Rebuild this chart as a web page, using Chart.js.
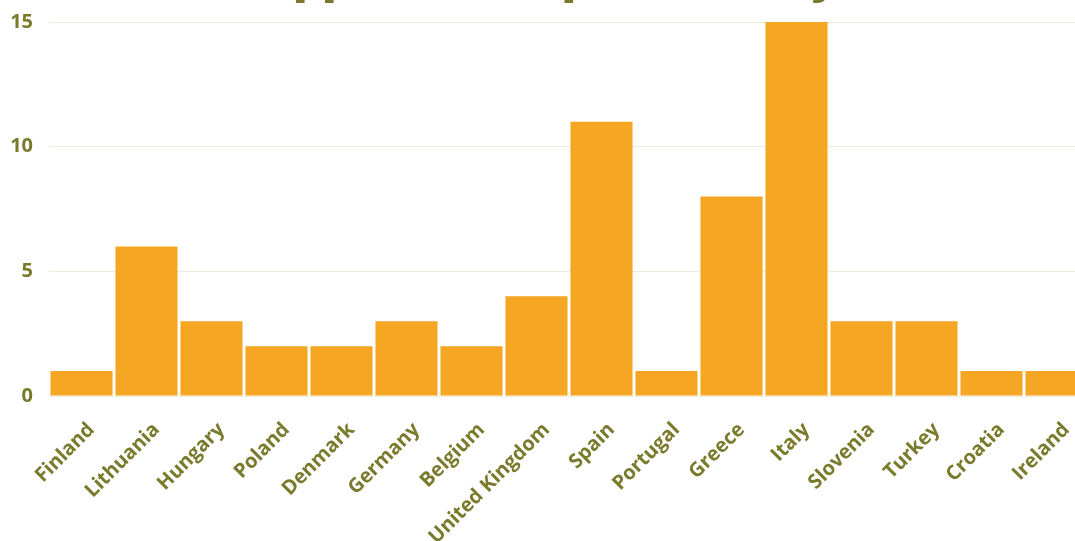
<!DOCTYPE html>
<html>
<head>
<meta charset="utf-8">
<script src="https://cdn.jsdelivr.net/npm/chart.js@4"></script>
<style>
  html, body { margin: 0; padding: 0; background: #ffffff; overflow: hidden; width: 1075px; height: 541px; }
  #wrap { position: absolute; left: 0; top: -58px; width: 1092px; height: 629px; }
</style>
</head>
<body>
<div id="wrap"><canvas id="c" width="1092" height="629"></canvas></div>
<script>
const titleText = "Applications per Country";
const categories = ["Finland", "Lithuania", "Hungary", "Poland", "Denmark", "Germany", "Belgium", "United Kingdom", "Spain", "Portugal", "Greece", "Italy", "Slovenia", "Turkey", "Croatia", "Ireland"];
const values = [1, 6, 3, 2, 2, 3, 2, 4, 11, 1, 8, 15, 3, 3, 1, 1];
const yTicks = [0, 5, 10, 15];

const olive = "#7a7a2c";
const barColor = "#f5a623";
const noPad = () => ({ left: 0, top: 0, right: 0, bottom: 0 });

new Chart(document.getElementById("c"), {
  type: "bar",
  data: {
    labels: categories,
    datasets: [{
      data: values,
      backgroundColor: barColor,
      borderWidth: 0,
      categoryPercentage: 1,
      barPercentage: 0.955
    }]
  },
  options: {
    responsive: false,
    animation: false,
    devicePixelRatio: 1,
    layout: { padding: { left: 10, right: 3, top: 0, bottom: 0 } },
    plugins: {
      legend: { display: false },
      tooltip: { enabled: false },
      title: {
        display: true,
        text: titleText,
        color: olive,
        font: { family: "Open Sans", size: 45, weight: "800" },
        padding: { top: 10, bottom: 16 }
      }
    },
    scales: {
      x: {
        grid: { display: false, drawTicks: false },
        border: { display: false },
        afterFit: (s) => { s.paddingLeft = 0; s.paddingRight = 0; s.getPadding = noPad; },
        ticks: {
          color: olive,
          font: { family: "Open Sans", size: 20, weight: "bold" },
          maxRotation: 45,
          minRotation: 45,
          padding: 22,
          labelOffset: 10,
          autoSkip: false
        }
      },
      y: {
        min: 0,
        max: 15,
        grid: { color: "#efebdc", lineWidth: 1, drawTicks: false },
        border: { display: false },
        afterBuildTicks: (s) => { s.ticks = yTicks.map(v => ({ value: v })); },
        afterFit: (s) => { s.width = 39; },
        ticks: {
          color: olive,
          font: { family: "Open Sans", size: 20, weight: "bold" },
          padding: 16
        }
      }
    }
  }
});
</script>
</body>
</html>
